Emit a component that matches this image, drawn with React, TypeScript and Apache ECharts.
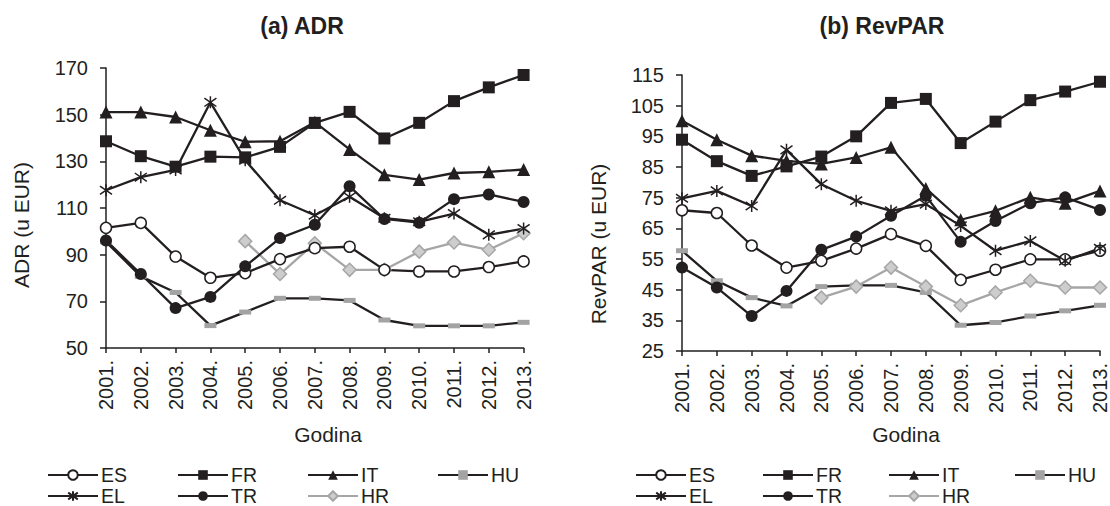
import React, { useEffect, useRef } from 'react';
import * as echarts from 'echarts';

const YEARS = ['2001.', '2002.', '2003.', '2004.', '2005.', '2006.', '2007.', '2008.', '2009.', '2010.', '2011.', '2012.', '2013.'];
const COUNTRIES = ['ES', 'FR', 'IT', 'HU', 'EL', 'TR', 'HR'];

// (a) ADR, EUR
const ADR_ES = [101.5, 103.6, 89.2, 80.1, 82.1, 88.1, 92.8, 93.4, 83.5, 82.8, 82.8, 84.7, 87.1];
const ADR_FR = [138.6, 132.2, 127.7, 132.0, 131.7, 136.2, 146.5, 151.2, 139.8, 146.5, 155.8, 161.7, 167.0];
const ADR_IT = [151.1, 151.1, 149.0, 143.3, 138.4, 138.6, 146.8, 135.1, 124.2, 122.2, 125.0, 125.5, 126.5];
const ADR_HU = [95.5, 80.7, 73.8, 59.6, 65.4, 71.3, 71.3, 70.4, 62.0, 59.5, 59.5, 59.5, 61.0];
const ADR_EL = [117.6, 123.2, 126.3, 155.3, 130.5, 113.3, 106.9, 114.8, 105.6, 104.1, 107.6, 98.5, 101.2];
const ADR_TR = [96.1, 81.7, 67.1, 71.9, 85.0, 97.1, 102.8, 119.3, 105.3, 103.7, 113.8, 115.8, 112.6];
const ADR_HR = [null, null, null, null, 95.8, 81.7, 94.9, 83.5, 83.5, 91.3, 95.2, 92.1, 99.2];

// (b) RevPAR, EUR
const REV_ES = [70.9, 70.0, 59.4, 52.2, 54.4, 58.4, 63.1, 59.3, 48.2, 51.5, 54.9, 54.9, 57.7];
const REV_FR = [93.9, 86.9, 82.1, 85.2, 88.4, 95.0, 105.9, 107.2, 92.8, 99.8, 106.8, 109.6, 112.8];
const REV_IT = [100.1, 93.9, 88.7, 87.0, 86.0, 88.1, 91.4, 78.0, 67.8, 70.7, 75.1, 73.2, 77.2];
const REV_HU = [57.7, 47.9, 42.4, 39.7, 46.0, 46.4, 46.4, 44.1, 33.4, 34.3, 36.4, 38.1, 39.9];
const REV_EL = [74.8, 77.2, 72.3, 90.6, 79.4, 74.0, 70.7, 72.9, 65.8, 57.7, 60.9, 54.4, 58.5];
const REV_TR = [52.2, 45.7, 36.4, 44.6, 58.0, 62.3, 69.1, 75.6, 60.6, 67.4, 73.2, 75.1, 71.0];
const REV_HR = [null, null, null, null, 42.4, 46.0, 52.2, 46.0, 39.9, 44.1, 47.9, 45.7, 45.7];

const ADR_TICKS = [50, 70, 90, 110, 130, 150, 170];
const REV_TICKS = [25, 35, 45, 55, 65, 75, 85, 95, 105, 115];

const TITLE_A = '(a) ADR';
const TITLE_B = '(b) RevPAR';
const YNAME_A = 'ADR (u EUR)';
const YNAME_B = 'RevPAR (u EUR)';
const XNAME = 'Godina';

const FONT = '"Liberation Sans", Arial, Helvetica, sans-serif';
const INK = '#231f20';
const GRAY_LINE = '#a6a6a6';
const ASTERISK = 'path://M5,0L5,10M0.7,1.5L9.3,8.5M0.7,8.5L9.3,1.5';

const STYLES: Record<string, any> = {
  ES: { symbol: 'circle', symbolSize: 11, itemStyle: { color: '#ffffff', borderColor: INK, borderWidth: 1.5 }, line: INK },
  FR: { symbol: 'rect', symbolSize: 12, itemStyle: { color: INK }, line: INK },
  IT: { symbol: 'triangle', symbolSize: 13, itemStyle: { color: INK }, line: INK },
  HU: { symbol: 'rect', symbolSize: [12, 5], itemStyle: { color: '#a3a3a3' }, line: INK },
  EL: { symbol: ASTERISK, symbolSize: 12, itemStyle: { color: 'transparent', borderColor: INK, borderWidth: 1.5 }, line: INK },
  TR: { symbol: 'circle', symbolSize: 12, itemStyle: { color: INK }, line: INK },
  HR: { symbol: 'diamond', symbolSize: 13, itemStyle: { color: '#cdcdcd', borderColor: GRAY_LINE, borderWidth: 1.5 }, line: GRAY_LINE },
};

const ADR_DATA: Record<string, (number | null)[]> = { ES: ADR_ES, FR: ADR_FR, IT: ADR_IT, HU: ADR_HU, EL: ADR_EL, TR: ADR_TR, HR: ADR_HR };
const REV_DATA: Record<string, (number | null)[]> = { ES: REV_ES, FR: REV_FR, IT: REV_IT, HU: REV_HU, EL: REV_EL, TR: REV_TR, HR: REV_HR };

function makeSeries(idx: number, dataMap: Record<string, (number | null)[]>) {
  const order = ['HU', 'HR', 'ES', 'EL', 'TR', 'IT', 'FR'];
  return order.map((c) => {
    const s = STYLES[c];
    return {
      type: 'line',
      name: c,
      xAxisIndex: idx,
      yAxisIndex: idx,
      data: dataMap[c],
      symbol: s.symbol,
      symbolSize: s.symbolSize,
      showSymbol: true,
      showAllSymbol: true,
      connectNulls: false,
      itemStyle: s.itemStyle,
      lineStyle: { color: s.line, width: 2.3 },
      emphasis: { disabled: true },
    };
  });
}

function axisX(idx: number) {
  return {
    type: 'category',
    gridIndex: idx,
    data: YEARS,
    boundaryGap: false,
    axisLine: { lineStyle: { color: INK, width: 1.5 } },
    axisTick: { length: 5, lineStyle: { color: INK, width: 1.5 } },
    axisLabel: { rotate: 90, interval: 0, fontSize: 20, fontFamily: FONT, color: INK, margin: 12 },
    splitLine: { show: false },
  };
}

function axisY(idx: number, min: number, max: number, ticks: number[]) {
  return {
    type: 'value',
    gridIndex: idx,
    min,
    max,
    axisLine: { show: true, lineStyle: { color: INK, width: 1.5 } },
    axisTick: { show: true, length: 6, customValues: ticks, lineStyle: { color: INK, width: 1.5 } },
    axisLabel: { customValues: ticks, fontSize: 20, fontFamily: FONT, color: INK, margin: 18 },
    splitLine: { show: false },
  };
}

const LEFT_COLS = [47, 177, 307, 437];
const RIGHT_COLS = [635, 762, 888, 1014];
const ROWS = [465, 486];

function makeLegends(cols: number[]) {
  return COUNTRIES.map((c, i) => ({
    data: [c],
    left: cols[i % 4],
    top: ROWS[Math.floor(i / 4)],
    padding: 0,
    itemWidth: 50,
    itemHeight: 12,
    selectedMode: false,
    textStyle: { fontSize: 19.5, fontFamily: FONT, color: INK, lineHeight: 19, padding: [0, 0, 0, -2] },
  }));
}

function textEl(text: string, x: number, y: number, size: number, bold: boolean, rotation = 0) {
  return {
    type: 'text',
    x,
    y,
    rotation,
    style: {
      text,
      fill: INK,
      font: `${bold ? 'bold ' : ''}${size}px ${FONT}`,
      textAlign: 'center',
      textVerticalAlign: 'middle',
    },
  };
}

export default function App() {
  const ref = useRef<HTMLDivElement>(null);
  useEffect(() => {
    if (!ref.current) return;
    const chart = echarts.init(ref.current, null, { renderer: 'svg' });
    chart.setOption({
      animation: false,
      backgroundColor: '#ffffff',
      grid: [
        { left: 106, top: 68, width: 417.6, height: 280 },
        { left: 682, top: 75, width: 418, height: 276 },
      ],
      xAxis: [axisX(0), axisX(1)],
      yAxis: [axisY(0, 50, 170, ADR_TICKS), axisY(1, 25, 115, REV_TICKS)],
      legend: [...makeLegends(LEFT_COLS), ...makeLegends(RIGHT_COLS)],
      series: [...makeSeries(0, ADR_DATA), ...makeSeries(1, REV_DATA)],
      graphic: [
        textEl(TITLE_A, 302, 26, 23, true),
        textEl(TITLE_B, 882, 26, 23, true),
        textEl(YNAME_A, 21, 225, 21, false, Math.PI / 2),
        textEl(YNAME_B, 598, 244, 21, false, Math.PI / 2),
        textEl(XNAME, 328, 434, 21, false),
        textEl(XNAME, 906, 434, 21, false),
      ],
    });
    return () => chart.dispose();
  }, []);
  return <div ref={ref} style={{ position: 'absolute', left: 0, top: 0, width: 1110, height: 506 }} />;
}
